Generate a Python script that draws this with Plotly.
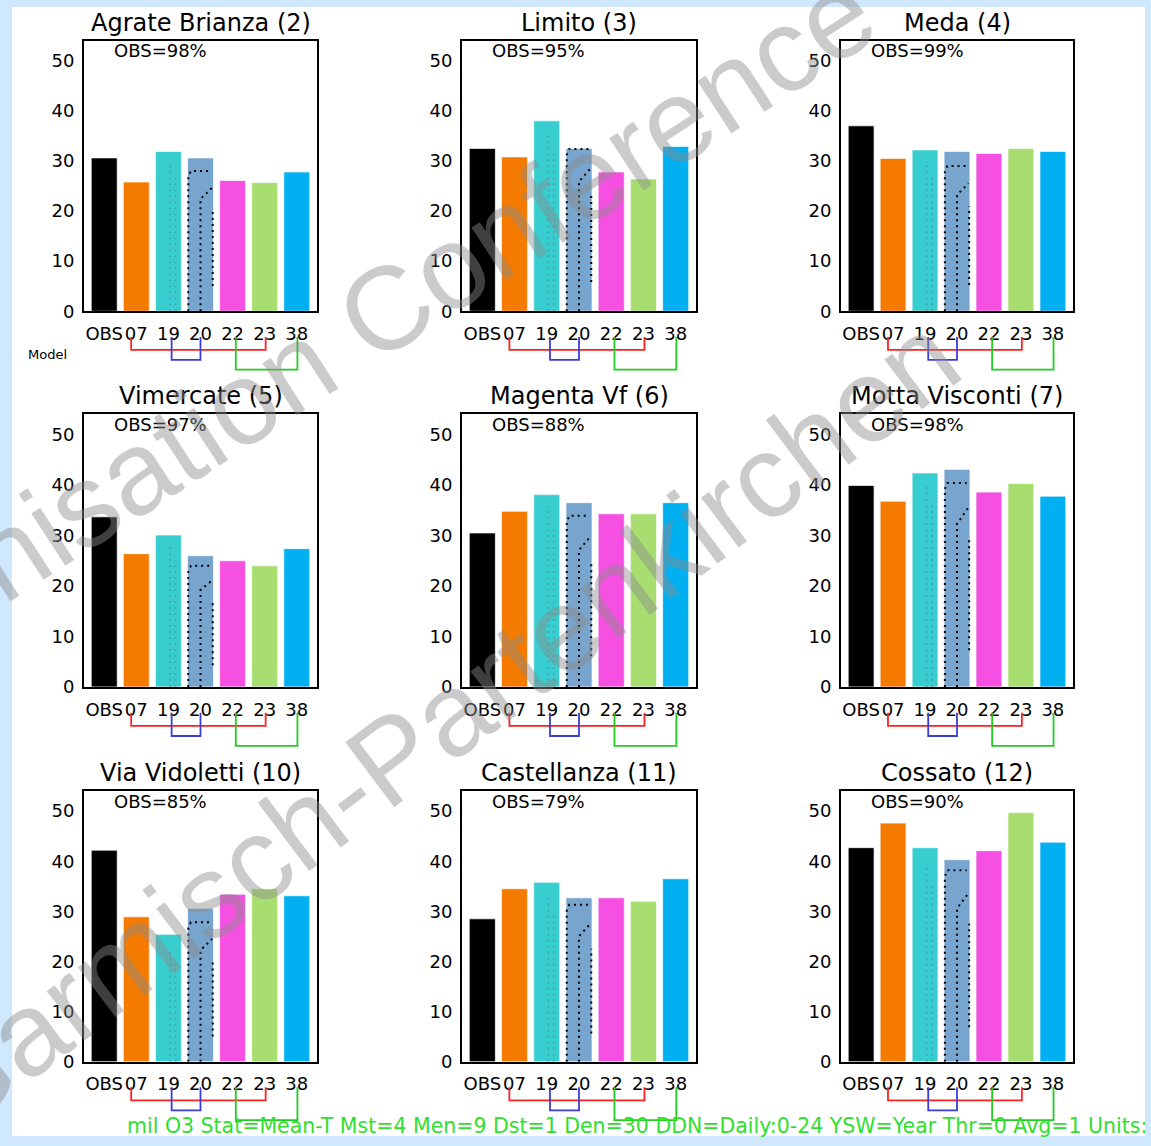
import plotly.graph_objects as go

# ---- data -------------------------------------------------------------
models = ["OBS", "07", "19", "20", "22", "23", "38"]
bar_colors = ["#000000", "#f57a00", "#38ced0", "#78a5cd", "#f550e1", "#a8de70", "#00b0f0"]

stations = ["Agrate Brianza (2)", "Limito (3)", "Meda (4)",
            "Vimercate (5)", "Magenta Vf (6)", "Motta Visconti (7)",
            "Via Vidoletti (10)", "Castellanza (11)", "Cossato (12)"]
obs_cover = [98, 95, 99, 97, 88, 98, 85, 79, 90]

agrate = [30.6, 25.8, 31.9, 30.6, 26.1, 25.7, 27.8]
limito = [32.5, 30.8, 38.0, 32.5, 27.8, 26.4, 32.9]
meda = [37.0, 30.5, 32.2, 31.9, 31.5, 32.5, 31.9]
vimercate = [33.7, 26.4, 30.1, 26.0, 25.0, 24.0, 27.4]
magenta_vf = [30.5, 34.8, 38.1, 36.5, 34.3, 34.3, 36.5]
motta = [39.9, 36.8, 42.4, 43.1, 38.6, 40.3, 37.8]
vidoletti = [42.2, 28.9, 25.4, 30.6, 33.4, 34.5, 33.1]
castellanza = [28.5, 34.5, 35.8, 32.7, 32.7, 32.0, 36.5]
cossato = [42.7, 47.6, 42.7, 40.3, 42.1, 49.7, 43.8]
station_values = [agrate, limito, meda, vimercate, magenta_vf, motta,
                  vidoletti, castellanza, cossato]

# dotted inner profiles drawn inside the "19" and "20" bars
inner19 = [29.6, 35.5, 30.0, 27.9, 35.7, 40.1, 22.3, 33.3, 39.6]
inner20 = [28.0, 32.4, 29.0, 24.0, 33.9, 40.4, 27.8, 31.3, 38.2]

# model pairs linked by brackets under the axis: (left, right, colour)
pairs = [("07", "23", "#ff2020"), ("19", "20", "#3c3cd8"), ("22", "38", "#22cc22")]

footer = ("mil O3 Stat=Mean-T Mst=4 Men=9 Dst=1 Den=30 DDN=Daily:0-24 "
          "YSW=Year Thr=0 Avg=1 Units:")

# ---- layout geometry (pixels on the 1151 x 1146 page) -----------------
W, H = 1151, 1146
col_px = [(84, 317), (462, 696), (841, 1073)]
row_px = [(41, 314), (418, 693), (798, 1071)]
X_RANGE = [-0.63, 6.63]
Y_RANGE = [0, 54]
FONT = "DejaVu Sans"


def fx(px):
    return px / W


def fy(px):
    return 1 - px / H


fig = go.Figure()
layout = dict(
    width=W, height=H,
    margin=dict(l=0, r=0, t=0, b=0),
    paper_bgcolor="#cfe8fd",
    plot_bgcolor="white",
    showlegend=False,
    font=dict(family=FONT, color="black"),
)
shapes = [dict(type="rect", xref="paper", yref="paper", layer="below",
               x0=fx(12), x1=fx(1145), y0=0, y1=fy(7),
               fillcolor="white", line=dict(width=0))]
annotations = []

xpos = list(range(len(models)))
bracket_top = -0.095
bracket_depth = [-0.143, -0.180, -0.216]
bracket_shift = [(-0.16, 0.03), (0.10, 0.0), (0.10, 0.02)]

for k, (name, vals) in enumerate(zip(stations, station_values)):
    r, c = divmod(k, 3)
    n = k + 1
    xa = "x" if n == 1 else f"x{n}"
    ya = "y" if n == 1 else f"y{n}"
    xkey = "xaxis" if n == 1 else f"xaxis{n}"
    ykey = "yaxis" if n == 1 else f"yaxis{n}"

    fig.add_trace(go.Bar(
        x=xpos, y=vals, width=0.81, xaxis=xa, yaxis=ya,
        marker=dict(color=bar_colors, line=dict(color="rgba(255,255,255,0.7)", width=1)),
        hoverinfo="skip"))

    # dotted profiles inside model 19 (faint) and model 20 (black)
    i19 = models.index("19")
    h19 = inner19[k]
    for dx, frac in [(0.05, 1.0), (0.22, 0.9)]:
        fig.add_trace(go.Scatter(
            x=[i19 + dx, i19 + dx], y=[0, h19 * frac], xaxis=xa, yaxis=ya,
            mode="lines", hoverinfo="skip",
            line=dict(color="rgba(90,120,160,0.45)", width=2, dash="2px,4px")))
    i20 = models.index("20")
    h20 = inner20[k]
    for xs, ys in [
        ([i20 - 0.38, i20 - 0.38, i20 - 0.30, i20 + 0.30], [0, h20 - 1.2, h20, h20]),
        ([i20, i20, i20 + 0.36], [0, h20 * 0.80, h20 * 0.88]),
        ([i20 + 0.38, i20 + 0.38], [h20 * 0.18, h20 * 0.72]),
    ]:
        fig.add_trace(go.Scatter(
            x=xs, y=ys, xaxis=xa, yaxis=ya, mode="lines", hoverinfo="skip",
            line=dict(color="black", width=2, dash="2px,4px")))

    x0, x1 = col_px[c]
    y0, y1 = row_px[r]
    axis_common = dict(showgrid=False, zeroline=False, showline=True, mirror=True,
                       linecolor="black", linewidth=2, ticks="", fixedrange=True)
    layout[xkey] = dict(domain=[fx(x0), fx(x1)], range=X_RANGE, anchor=ya,
                        tickmode="array", tickvals=xpos, ticktext=models,
                        tickangle=0, tickfont=dict(size=18), ticklabelstandoff=5,
                        **axis_common)
    layout[ykey] = dict(domain=[fy(y1), fy(y0)], range=Y_RANGE, anchor=xa,
                        tickmode="array", tickvals=[0, 10, 20, 30, 40, 50],
                        tickfont=dict(size=18), ticklabelstandoff=4, **axis_common)

    # station title and observation coverage
    annotations.append(dict(text=name, xref=f"{xa} domain", yref=f"{ya} domain",
                            x=0.5, y=1, xanchor="center", yanchor="bottom", yshift=2,
                            showarrow=False, font=dict(size=24)))
    annotations.append(dict(text=f"OBS={obs_cover[k]}%", xref=f"{xa} domain",
                            yref=f"{ya} domain", x=0, y=1, xanchor="left",
                            yanchor="middle", xshift=28, yshift=-10,
                            showarrow=False, font=dict(size=18)))

    # brackets linking model pairs
    for (a, b, col), depth, (sa, sb) in zip(pairs, bracket_depth, bracket_shift):
        ia = models.index(a) + sa
        ib = models.index(b) + sb
        shapes.append(dict(
            type="path", xref=xa, yref=f"{ya} domain",
            path=f"M {ia},{bracket_top} L {ia},{depth} L {ib},{depth} L {ib},{bracket_top}",
            line=dict(color=col, width=1.8)))

annotations.append(dict(text="Model", xref="paper", yref="paper", x=fx(47), y=fy(358),
                        xanchor="center", yanchor="middle", showarrow=False,
                        font=dict(size=13, color="black")))
annotations.append(dict(text=footer, xref="paper", yref="paper", x=fx(125), y=fy(1136),
                        xanchor="left", yanchor="middle", showarrow=False,
                        font=dict(size=20.5, color="#30de30")))

# conference watermark
wm_font = dict(family="Liberation Sans", size=118, color="rgba(140,140,140,0.45)")
annotations.append(dict(text="Harmonisation Conference", xref="paper", yref="paper",
                        x=fx(273), y=fy(385), xanchor="center", yanchor="middle",
                        textangle=-33, showarrow=False, font=wm_font))
annotations.append(dict(text="Garmisch-Partenkirchen", xref="paper", yref="paper",
                        x=fx(435), y=fy(731), xanchor="center", yanchor="middle",
                        textangle=-37, showarrow=False, font=wm_font))

layout["shapes"] = shapes
layout["annotations"] = annotations
fig.update_layout(**layout)
fig.write_html("out.html")
